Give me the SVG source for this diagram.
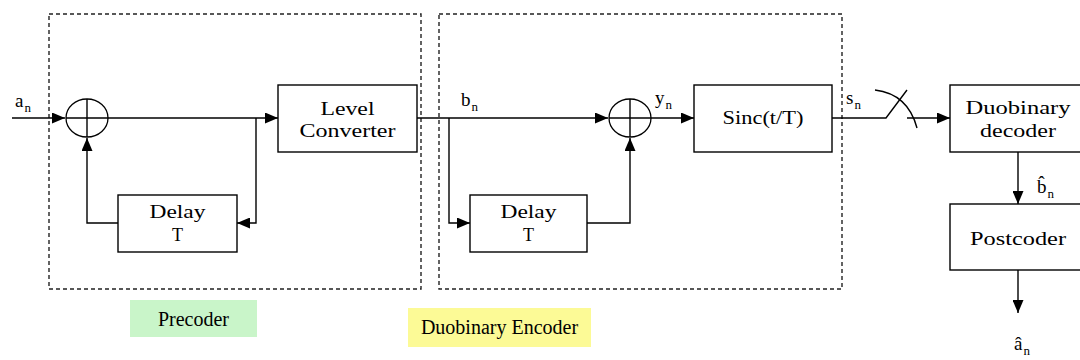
<svg xmlns="http://www.w3.org/2000/svg" width="1080" height="360" viewBox="0 0 1080 360">
<style>
.bg{fill:#ffffff}
.box{fill:#ffffff;stroke:#000;stroke-width:1.4}
.dash{fill:none;stroke:#222;stroke-width:1.4;stroke-dasharray:4,3}
.sum{fill:none;stroke:#000;stroke-width:1.3}
.ln{fill:none;stroke:#000;stroke-width:1.4}
.t{font-family:"Liberation Serif","Times New Roman",serif;font-size:18px;fill:#000;text-anchor:middle}
.lab{font-family:"Liberation Serif","Times New Roman",serif;font-size:19px;fill:#000}
.sub{font-size:13px}
.cap{font-family:"Liberation Serif","Times New Roman",serif;font-size:20px;fill:#000;text-anchor:middle}
</style>
<defs>
<marker id="ah" markerWidth="13" markerHeight="11" refX="13" refY="5.5" orient="auto" markerUnits="userSpaceOnUse">
<path d="M0,0 L13,5.5 L0,11 z" fill="#000"/>
</marker>
</defs>
<rect class="bg" x="0" y="0" width="1080" height="360"/>

<g id="precoder-frame"><rect class="dash" x="49" y="14" width="372" height="275"/></g>
<g id="encoder-frame"><rect class="dash" x="439" y="14" width="403" height="275"/></g>

<g id="precoder-label">
<rect x="130" y="300" width="127" height="37" fill="#c9f5c9"/>
<text class="cap" x="193.5" y="326">Precoder</text>
</g>
<g id="encoder-label">
<rect x="408" y="308" width="183" height="39" fill="#fcfa96"/>
<text class="cap" x="499.5" y="334">Duobinary Encoder</text>
</g>

<g id="connectors">
<path class="ln" d="M12,118 H65" marker-end="url(#ah)"/>
<path class="ln" d="M108,118 H278" marker-end="url(#ah)"/>
<path class="ln" d="M256,118 V223 H237" marker-end="url(#ah)"/>
<path class="ln" d="M118,223 H87 V138" marker-end="url(#ah)"/>
<path class="ln" d="M417,118 H608" marker-end="url(#ah)"/>
<path class="ln" d="M449,118 V223 H470" marker-end="url(#ah)"/>
<path class="ln" d="M587,223 H630 V138" marker-end="url(#ah)"/>
<path class="ln" d="M651,118 H694" marker-end="url(#ah)"/>
<path class="ln" d="M832,118 H886 L907,90"/>
<path class="ln" d="M875,90 Q908,94 917,128"/>
<path class="ln" d="M907,118 H950" marker-end="url(#ah)"/>
<path class="ln" d="M1018,152 V204" marker-end="url(#ah)"/>
<path class="ln" d="M1018,270 V313" marker-end="url(#ah)"/>
</g>

<g id="sum1">
<ellipse class="sum" cx="87" cy="118" rx="21" ry="19"/>
<path class="ln" d="M87,99 V137 M66,118 H108"/>
</g>
<g id="sum2">
<ellipse class="sum" cx="630" cy="118" rx="21" ry="19"/>
<path class="ln" d="M630,99 V137 M609,118 H651"/>
</g>

<g id="level-converter">
<rect class="box" x="278" y="85" width="139" height="67"/>
<text class="t" x="347.5" y="115" textLength="54" lengthAdjust="spacingAndGlyphs">Level</text>
<text class="t" x="347.5" y="137" textLength="96" lengthAdjust="spacingAndGlyphs">Converter</text>
</g>
<g id="delay1">
<rect class="box" x="118" y="195" width="119" height="57"/>
<text class="t" x="177.5" y="218" textLength="56" lengthAdjust="spacingAndGlyphs">Delay</text>
<text class="t" x="177.5" y="241">T</text>
</g>
<g id="delay2">
<rect class="box" x="470" y="195" width="117" height="57"/>
<text class="t" x="528.5" y="218" textLength="56" lengthAdjust="spacingAndGlyphs">Delay</text>
<text class="t" x="528.5" y="241">T</text>
</g>
<g id="sinc">
<rect class="box" x="694" y="85" width="138" height="67"/>
<text class="t" x="763" y="124" textLength="81" lengthAdjust="spacingAndGlyphs">Sinc(t/T)</text>
</g>
<g id="duobinary-decoder">
<rect class="box" x="950" y="85" width="140" height="67"/>
<text class="t" x="1018" y="114" textLength="105" lengthAdjust="spacingAndGlyphs">Duobinary</text>
<text class="t" x="1018" y="137" textLength="76" lengthAdjust="spacingAndGlyphs">decoder</text>
</g>
<g id="postcoder">
<rect class="box" x="950" y="204" width="140" height="66"/>
<text class="t" x="1018" y="245" textLength="96" lengthAdjust="spacingAndGlyphs">Postcoder</text>
</g>

<g id="labels">
<text class="lab" x="15" y="107">a<tspan class="sub" dx="1" dy="5">n</tspan></text>
<text class="lab" x="461" y="106">b<tspan class="sub" dx="1" dy="5">n</tspan></text>
<text class="lab" x="655" y="104">y<tspan class="sub" dx="1" dy="5">n</tspan></text>
<text class="lab" x="846" y="104">s<tspan class="sub" dx="1" dy="5">n</tspan></text>
<text class="lab" x="1037" y="193">b̂<tspan class="sub" dx="1" dy="5">n</tspan></text>
<text class="lab" x="1014" y="350">â<tspan class="sub" dx="1" dy="5">n</tspan></text>
</g>
</svg>
